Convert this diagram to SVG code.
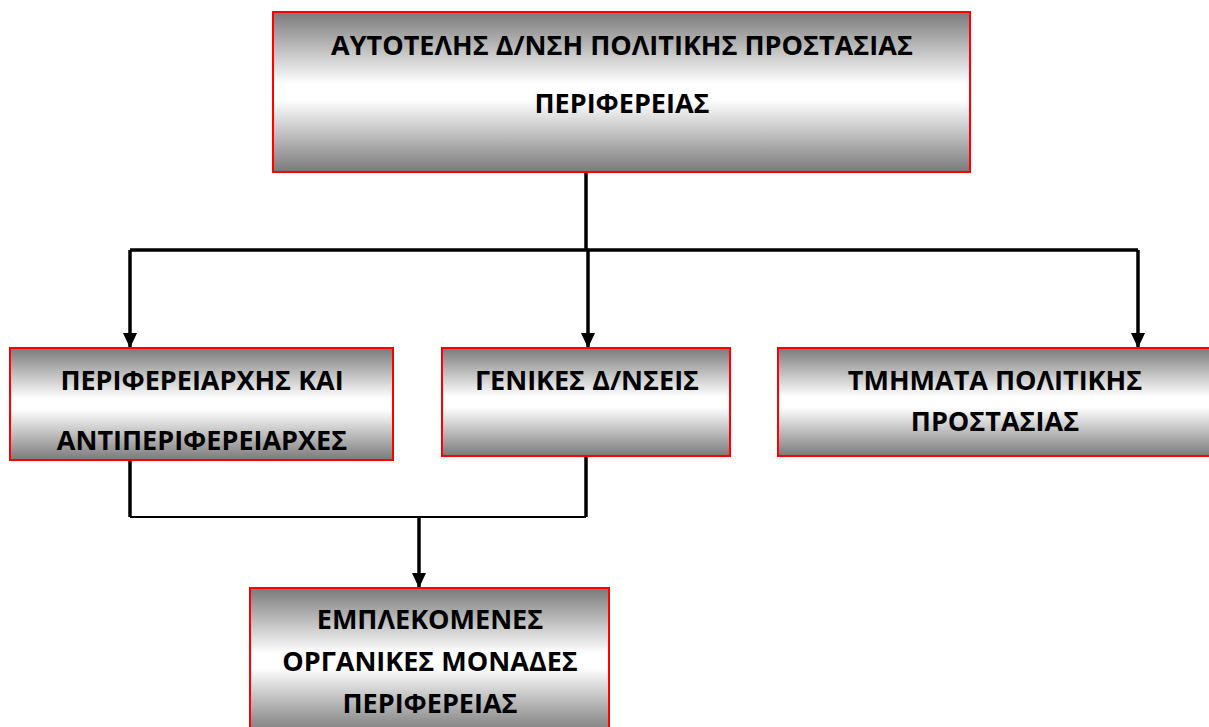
<svg xmlns="http://www.w3.org/2000/svg" width="1209" height="727" viewBox="0 0 1209 727">
<defs>
<linearGradient id="g" x1="0" y1="0" x2="0" y2="1">
<stop offset="0" stop-color="#7a7a7a"/>
<stop offset="0.45" stop-color="#ffffff"/>
<stop offset="0.55" stop-color="#ffffff"/>
<stop offset="1" stop-color="#7a7a7a"/>
</linearGradient>
<marker id="ah" viewBox="0 0 15 14" refX="15" refY="7" markerWidth="15" markerHeight="14" markerUnits="userSpaceOnUse" orient="auto">
<path d="M0,0 L15,7 L0,14 Z" fill="#000"/>
</marker>
</defs>
<style>
.box{fill:url(#g);stroke:#ff0000;stroke-width:2}
.t{font-family:"Open Sans","Liberation Sans",sans-serif;font-weight:bold;font-size:27px;fill:#000;text-anchor:middle}
.c{fill:none;stroke:#000;stroke-width:3.5}
.thin{fill:none;stroke:#000;stroke-width:1.8}
</style>
<rect width="1209" height="727" fill="#fff"/>
<g id="connectors">
<path class="c" d="M586,172 V250"/>
<path class="c" d="M130,250 H1138"/>
<line class="c" x1="130" y1="250" x2="130" y2="348" marker-end="url(#ah)"/>
<line class="c" x1="588" y1="250" x2="588" y2="348" marker-end="url(#ah)"/>
<line class="c" x1="1138" y1="250" x2="1138" y2="348" marker-end="url(#ah)"/>
<path class="c" d="M130,460 V517"/>
<path class="c" d="M586,456 V517"/>
<path class="thin" d="M130,517 H586"/>
<line class="c" x1="419" y1="517" x2="419" y2="588" marker-end="url(#ah)"/>
</g>
<g id="node-top">
<rect class="box" x="273" y="12" width="697" height="160"/>
<text class="t" x="622" y="55">ΑΥΤΟΤΕΛΗΣ Δ/ΝΣΗ ΠΟΛΙΤΙΚΗΣ ΠΡΟΣΤΑΣΙΑΣ</text>
<text class="t" x="622" y="113">ΠΕΡΙΦΕΡΕΙΑΣ</text>
</g>
<g id="node-perifereiarxis">
<rect class="box" x="10" y="348" width="383" height="112"/>
<text class="t" x="202" y="390">ΠΕΡΙΦΕΡΕΙΑΡΧΗΣ ΚΑΙ</text>
<text class="t" x="202" y="450">ΑΝΤΙΠΕΡΙΦΕΡΕΙΑΡΧΕΣ</text>
</g>
<g id="node-genikes">
<rect class="box" x="442" y="348" width="288" height="108"/>
<text class="t" x="587" y="390">ΓΕΝΙΚΕΣ Δ/ΝΣΕΙΣ</text>
</g>
<g id="node-tmimata">
<rect class="box" x="778" y="348" width="432" height="108"/>
<text class="t" x="995" y="390">ΤΜΗΜΑΤΑ ΠΟΛΙΤΙΚΗΣ</text>
<text class="t" x="995" y="431">ΠΡΟΣΤΑΣΙΑΣ</text>
</g>
<g id="node-emplekomenes">
<rect class="box" x="250" y="588" width="359" height="145"/>
<text class="t" x="430" y="629">ΕΜΠΛΕΚΟΜΕΝΕΣ</text>
<text class="t" x="430" y="671">ΟΡΓΑΝΙΚΕΣ ΜΟΝΑΔΕΣ</text>
<text class="t" x="430" y="713">ΠΕΡΙΦΕΡΕΙΑΣ</text>
</g>
</svg>
